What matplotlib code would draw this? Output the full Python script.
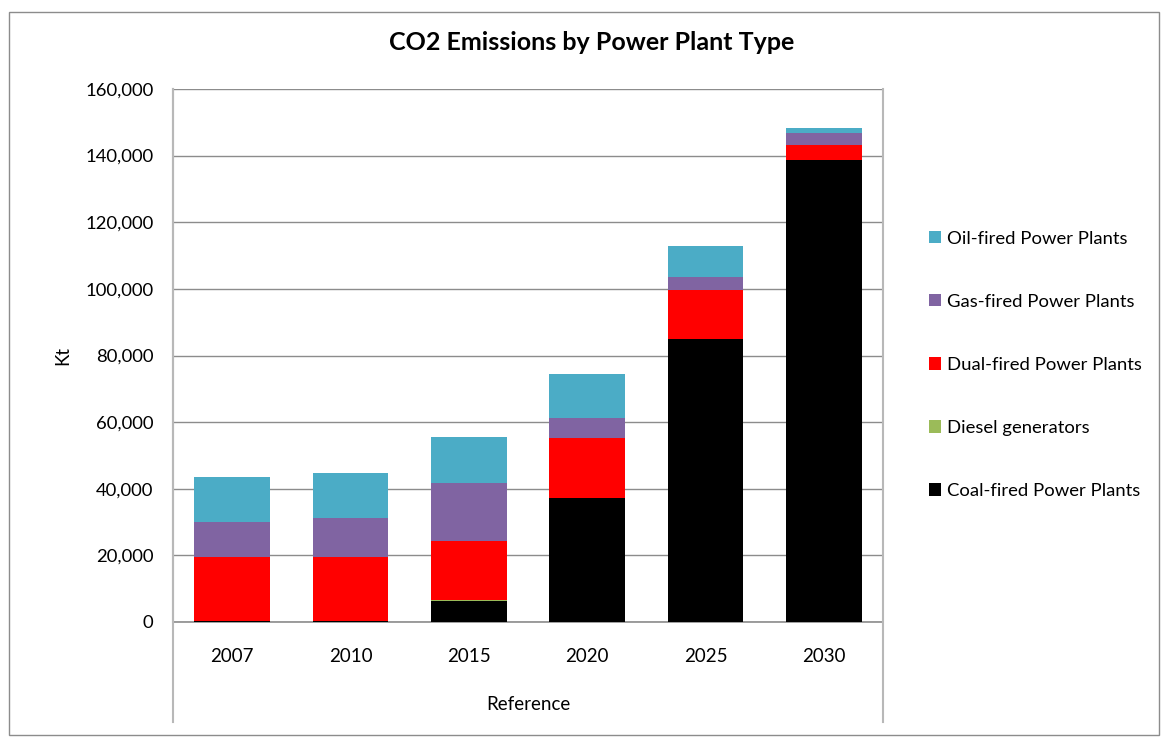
import numpy as np
import matplotlib
matplotlib.use('Agg')
from matplotlib import pyplot as plt
from matplotlib.lines import Line2D
from matplotlib.patches import Rectangle

plt.rcParams['font.family'] = ['Lato', 'DejaVu Sans']

years = ['2007', '2010', '2015', '2020', '2025', '2030']
coal = [200, 200, 6300, 37200, 85000, 138800]
diesel = [50, 50, 400, 0, 0, 0]
dual = [19250, 19250, 17600, 17900, 14700, 4400]
gas = [10500, 11700, 17400, 6000, 3900, 3700]
oil = [13500, 13500, 13800, 13300, 9300, 1400]

series = [
    ('Coal-fired Power Plants', coal, '#000000'),
    ('Diesel generators', diesel, '#9BBB59'),
    ('Dual-fired Power Plants', dual, '#FF0000'),
    ('Gas-fired Power Plants', gas, '#8064A2'),
    ('Oil-fired Power Plants', oil, '#4BACC6'),
]

fig = plt.figure(figsize=(11.62, 7.38), dpi=100)
ax = fig.add_axes([173 / 1162, 1 - 622 / 738, 710 / 1162, 533 / 738])

x = np.arange(len(years))
bottom = np.zeros(len(years))
handles = []
for name, vals, col in series:
    vals = np.array(vals, dtype=float)
    b = ax.bar(x, vals, 0.64, bottom=bottom, color=col, label=name, zorder=3)
    handles.append(b)
    bottom += vals

ax.set_ylim(0, 160000)
ax.set_xlim(-0.5, len(years) - 0.5)
ax.set_yticks(np.arange(0, 160001, 20000))
ax.set_yticklabels(['{:,}'.format(v) for v in range(0, 160001, 20000)], fontsize=13.3)
ax.set_xticks(x)
ax.set_xticklabels(years, fontsize=13.5)
ax.tick_params(axis='both', length=0)
ax.tick_params(axis='x', pad=19)
ax.tick_params(axis='y', pad=14)
ax.grid(axis='y', color='#8c8c8c', linewidth=1, zorder=0)
for s in ['top', 'right']:
    ax.spines[s].set_visible(False)
ax.spines['left'].set_color('#b0b0b0')
ax.spines['bottom'].set_color('#8c8c8c')
ax.spines['left'].set_linewidth(1.5)
ax.spines['bottom'].set_linewidth(1.2)

ax.set_ylabel('Kt', fontsize=13.5, labelpad=10)
ax.text(528 / 1162, 1 - 705 / 738, 'Reference', transform=fig.transFigure,
        ha='center', va='center', fontsize=13.5)

# group divider lines of the category axis
yb = 1 - 722 / 738
yt = 1 - 89 / 738
for xl in [173 / 1162, 883 / 1162]:
    fig.add_artist(Line2D([xl, xl], [yb, yt], color='#b8b8b8', linewidth=1.5))

fig.suptitle('CO2 Emissions by Power Plant Type', fontsize=18, fontweight='bold',
             x=592 / 1162, y=1 - 43 / 738, va='center')

fig.legend(handles[::-1], [s[0] for s in series][::-1], loc='upper left',
           bbox_to_anchor=(912 / 1162, 1 - 214 / 738), frameon=False, fontsize=13.3,
           handlelength=0.65, handleheight=0.65, handletextpad=0.35, labelspacing=2.55)

fig.add_artist(Rectangle((9 / 1162, 1 - 735 / 738), 1150 / 1162, 723 / 738,
                         transform=fig.transFigure, fill=False, edgecolor='#8c8c8c',
                         linewidth=1))

fig.savefig('out.png', dpi=100)
